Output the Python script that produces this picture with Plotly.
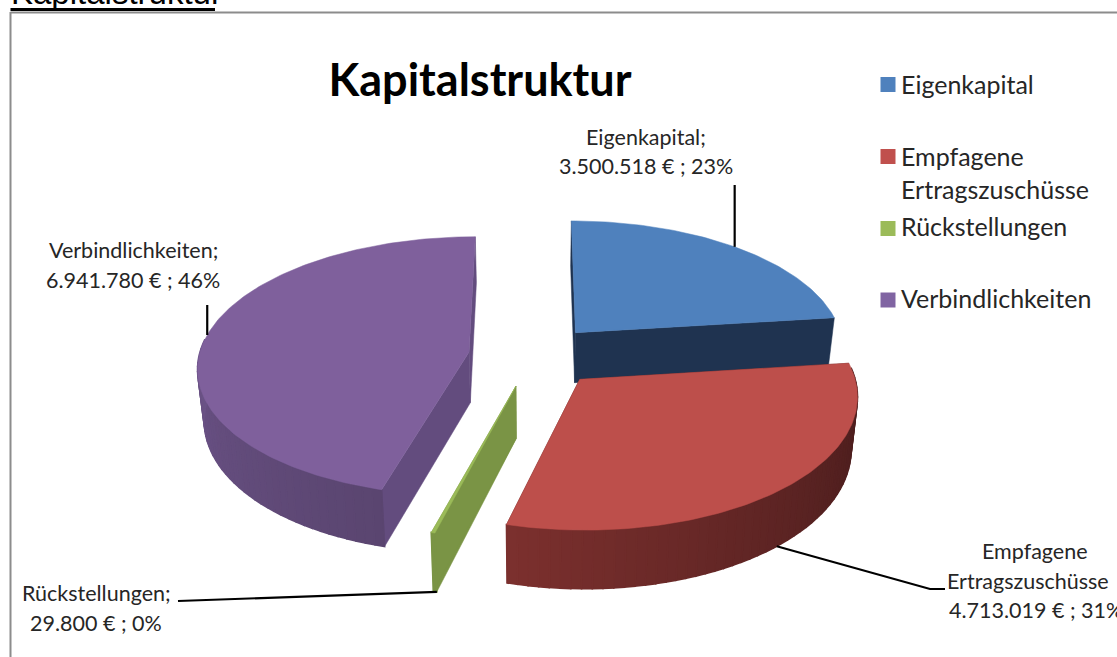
import math
import plotly.graph_objects as go

# ---- data ----
categories = ["Eigenkapital", "Empfagene Ertragszuschüsse", "Rückstellungen", "Verbindlichkeiten"]
values = [3500518, 4713019, 29800, 6941780]

# ---- styles ----
top_colors = ["#4f81bd", "#bd4f4b", "#9bbb59", "#7f609c"]
legend_colors = ["#4f81bd", "#c0504d", "#9bbb59", "#8064a2"]
face_colors = ["#1f3350", "#5e2625", "#7a9445", "#634c7e"]
wall_dark_light = [("#1f3350", "#1f3350"), ("#481c1c", "#7c302e"), ("#7a9445", "#7a9445"), ("#6d5489", "#5a4570")]
FONT = "Lato"
TXT = "#262626"

# ---- 3D projection parameters ----
CX, CY = 534, 356
R, RY = 270, 128.7
PERSP = 0.11
DEPTH = 51
SHRINK = 0.02
EXPLODE = 0.236
STEP = 2.0
NUDGE = [(0, -1), (3, 0), (-1, 0), (-2, 0)]


def project(X, Y, Z=0.0):
    w = 1 + PERSP * Y
    x = X * R / w
    y = (-RY * Y + DEPTH * Z) / w
    return CX + x * (1 - SHRINK * Z), CY + y


def hex2rgb(c):
    return tuple(int(c[i:i + 2], 16) for i in (1, 3, 5))


def mix(a, b, t):
    ra, rb = hex2rgb(a), hex2rgb(b)
    return "rgb(%d,%d,%d)" % tuple(round(p + (q - p) * t) for p, q in zip(ra, rb))


total = sum(values)
spans = []
acc = 0.0
for v in values:
    start = acc / total * 360
    acc += v
    spans.append((start, acc / total * 360))


def offset(i):
    mid = math.radians(sum(spans[i]) / 2)
    return EXPLODE * math.sin(mid), EXPLODE * math.cos(mid)


def place(i, p):
    return p[0] + NUDGE[i][0], p[1] + NUDGE[i][1]


def rim(i, deg, z=0.0):
    ox, oy = offset(i)
    a = math.radians(deg)
    return place(i, project(ox + math.sin(a), oy + math.cos(a), z))


def poly(points, color, line=1.0):
    xs = [p[0] for p in points] + [points[0][0]]
    ys = [p[1] for p in points] + [points[0][1]]
    return go.Scatter(x=xs, y=ys, mode="lines", fill="toself", fillcolor=color,
                      line=dict(color=color, width=line), hoverinfo="skip", showlegend=False)


fig = go.Figure()


def draw_slice(i):
    s, e = spans[i]
    ox, oy = offset(i)
    apex_t, apex_b = place(i, project(ox, oy)), place(i, project(ox, oy, 1))
    # radial faces
    for deg in (s, e):
        fig.add_trace(poly([apex_t, rim(i, deg), rim(i, deg, 1), apex_b], face_colors[i], 0.5))
    # outer wall, split in narrow bands for the shading
    n = max(1, int((e - s) / STEP))
    dark, light = wall_dark_light[i]
    lo, hi = (83.0, 195.0) if i == 1 else (195.5, 280.0)
    for k in range(n):
        a0 = s + (e - s) * k / n
        a1 = s + (e - s) * (k + 1) / n
        if math.cos(math.radians((a0 + a1) / 2)) > 0.1:
            continue
        t = min(1, max(0, ((a0 + a1) / 2 - lo) / (hi - lo)))
        if i == 3:
            t = 1 - t
        col = mix(dark, light, t ** 1.3 if i == 1 else t)
        fig.add_trace(poly([rim(i, a0), rim(i, a1), rim(i, a1, 1), rim(i, a0, 1)], col, 1.6))
    # top surface
    m = max(2, int((e - s) / 1.0))
    arc = [rim(i, s + (e - s) * k / m) for k in range(m + 1)]
    fig.add_trace(poly([apex_t] + arc, top_colors[i], 0.5))


for idx in (0, 3, 2, 1):
    draw_slice(idx)

# ---- leader lines, anchored on the slices ----
mid = [sum(sp) / 2 for sp in spans]
leaders = [
    [rim(0, mid[0]), (rim(0, mid[0])[0], 185)],
    [rim(1, mid[1], 1), (930, 589), (945, 589)],
    [rim(2, spans[2][0], 1), (178, 601)],
    [rim(3, mid[3]), (rim(3, mid[3])[0], 305)],
]
for pts in leaders:
    fig.add_trace(go.Scatter(x=[p[0] for p in pts], y=[p[1] for p in pts], mode="lines",
                             line=dict(color="#000000", width=2.2), hoverinfo="skip", showlegend=False))

# ---- legend ----
legend_y = [84.5, 156.5, 228.5, 300]
fig.add_trace(go.Scatter(x=[888] * 4, y=legend_y, mode="markers",
                         marker=dict(symbol="square", size=15, color=legend_colors),
                         text=categories, hoverinfo="text", showlegend=False))


def euro(v):
    return f"{v:,}".replace(",", ".") + " €"


def pct(v):
    return f"{round(v / total * 100)}%"


annotations = []


def text(s, x, y, size, anchor="center", color=TXT, font=FONT):
    annotations.append(dict(text=s, x=x, y=y, xref="x", yref="y", xanchor=anchor, yanchor="middle",
                            showarrow=False, font=dict(family=font, size=size, color=color)))


LEG = 25
text("Eigenkapital", 899, 84, LEG, "left")
text("Empfagene", 899, 156, LEG, "left")
text("Ertragszuschüsse", 899, 189, LEG, "left")
text("Rückstellungen", 899, 226, LEG, "left")
text("Verbindlichkeiten", 899, 298, LEG, "left")

LBL = 21.5
text("Eigenkapital;", 646, 137, LBL)
text(f"{euro(values[0])} ; {pct(values[0])}", 646, 166, LBL)
text("Verbindlichkeiten;", 133, 250, LBL)
text(f"{euro(values[3])} ; {pct(values[3])}", 133, 280, LBL)
text("Rückstellungen;", 96, 593, LBL)
text(f"{euro(values[2])} ; {pct(values[2])}", 96, 623, LBL)
text("Empfagene", 1035, 551, LBL)
text("Ertragszuschüsse", 945, 581, LBL, "left")
text(f"{euro(values[1])} ; {pct(values[1])}", 947, 610, LBL, "left")

# heading above the frame, cut off by the window edge
annotations.append(dict(text="Kapitalstruktur", x=9 / 1117, y=1 - (-8) / 657, xref="paper", yref="paper",
                        xanchor="left", yanchor="middle", showarrow=False,
                        font=dict(family="Liberation Sans", size=33, color="#000000")))

shapes = [
    dict(type="line", xref="x", yref="y", x0=10.5, x1=215, y0=9.5, y1=9.5, line=dict(color="#000000", width=3)),
    dict(type="line", xref="x", yref="y", x0=10.5, x1=1117, y0=12.5, y1=12.5, line=dict(color="#8c8c8c", width=2)),
    dict(type="line", xref="x", yref="y", x0=10.5, x1=10.5, y0=12, y1=657, line=dict(color="#8c8c8c", width=2)),
]

fig.update_layout(
    width=1117, height=657,
    margin=dict(l=0, r=0, t=0, b=0),
    paper_bgcolor="#ffffff", plot_bgcolor="#ffffff",
    title=dict(text="<b>Kapitalstruktur</b>", x=480 / 1117, y=1 - 80 / 657, xanchor="center", yanchor="middle",
               xref="paper", yref="paper",
               font=dict(family=FONT, size=45, color="#000000")),
    xaxis=dict(range=[0, 1117], visible=False, fixedrange=True),
    yaxis=dict(range=[657, 0], visible=False, fixedrange=True),
    annotations=annotations, shapes=shapes, showlegend=False,
)

fig.write_html("out.html", post_script="document.body.style.margin='0';document.body.style.overflow='hidden';",
               config=dict(displayModeBar=False))
